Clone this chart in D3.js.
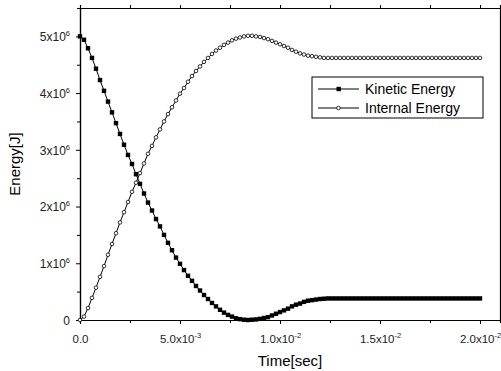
<!DOCTYPE html>
<html>
<head>
<meta charset="utf-8">
<script src="https://cdn.jsdelivr.net/npm/d3@7"></script>
<style>
  body { margin: 0; background: #fff; }
  svg { display: block; font-family: "Liberation Sans", Arial, sans-serif; }
</style>
</head>
<body>
<svg width="501" height="371"></svg>
<script>
// time in units of 1e-4 sec
var timeSteps = [
  0, 2, 4, 6, 8, 10, 12, 14, 16, 18, 20, 22, 24, 26, 28, 30, 32, 34, 36, 38,
  40, 42, 44, 46, 48, 50, 52, 54, 56, 58, 60, 62, 64, 66, 68, 70, 72, 74, 76, 78,
  80, 82, 84, 86, 88, 90, 92, 94, 96, 98, 100, 102, 104, 106, 108, 110, 112, 114, 116, 118,
  120, 122, 124, 126, 128, 130, 132, 134, 136, 138, 140, 142, 144, 146, 148, 150, 152, 154, 156, 158,
  160, 162, 164, 166, 168, 170, 172, 174, 176, 178, 180, 182, 184, 186, 188, 190, 192, 194, 196, 198, 200
];
// energies in units of 1e6 J
var kinetic = [
  5.00, 4.94, 4.79, 4.62, 4.43, 4.23, 4.04, 3.85, 3.66, 3.47, 3.28, 3.09, 2.91, 2.75, 2.57, 2.40, 2.23, 2.07, 1.93, 1.78,
  1.65, 1.50, 1.36, 1.23, 1.10, 0.99, 0.88, 0.78, 0.69, 0.60, 0.52, 0.44, 0.37, 0.30, 0.24, 0.18, 0.13, 0.09, 0.06, 0.03,
  0.015, 0.005, 0.0, 0.005, 0.01, 0.02, 0.035, 0.05, 0.08, 0.11, 0.14, 0.17, 0.20, 0.24, 0.27, 0.29, 0.32, 0.34, 0.35, 0.36,
  0.37, 0.375, 0.38, 0.38, 0.38, 0.38, 0.38, 0.38, 0.38, 0.38, 0.38, 0.38, 0.38, 0.38, 0.38, 0.38, 0.38, 0.38, 0.38, 0.38,
  0.38, 0.38, 0.38, 0.38, 0.38, 0.38, 0.38, 0.38, 0.38, 0.38, 0.38, 0.38, 0.38, 0.38, 0.38, 0.38, 0.38, 0.38, 0.38, 0.38, 0.38
];
var internal = [
  0.00, 0.06, 0.21, 0.39, 0.57, 0.76, 0.95, 1.15, 1.34, 1.53, 1.72, 1.90, 2.08, 2.26, 2.42, 2.59, 2.76, 2.93, 3.07, 3.22,
  3.36, 3.50, 3.63, 3.75, 3.87, 3.99, 4.09, 4.20, 4.30, 4.39, 4.47, 4.55, 4.62, 4.69, 4.75, 4.80, 4.85, 4.89, 4.93, 4.96,
  4.98, 5.00, 5.01, 5.01, 5.00, 4.99, 4.97, 4.95, 4.92, 4.89, 4.86, 4.83, 4.80, 4.76, 4.73, 4.70, 4.68, 4.66, 4.65, 4.64,
  4.63, 4.62, 4.62, 4.62, 4.62, 4.62, 4.62, 4.62, 4.62, 4.62, 4.62, 4.62, 4.62, 4.62, 4.62, 4.62, 4.62, 4.62, 4.62, 4.62,
  4.62, 4.62, 4.62, 4.62, 4.62, 4.62, 4.62, 4.62, 4.62, 4.62, 4.62, 4.62, 4.62, 4.62, 4.62, 4.62, 4.62, 4.62, 4.62, 4.62, 4.62
];
var seriesNames = ["Kinetic Energy", "Internal Energy"];

var xTicks = [0, 0.005, 0.01, 0.015, 0.02];
var xTickMant = ["0.0", "5.0", "1.0", "1.5", "2.0"];
var xTickExp = ["", "-3", "-2", "-2", "-2"];
var xMinor = [0.0025, 0.0075, 0.0125, 0.0175];
var yTicks = [0, 1e6, 2e6, 3e6, 4e6, 5e6];
var yTickMant = ["0", "1", "2", "3", "4", "5"];
var yMinor = [0.5e6, 1.5e6, 2.5e6, 3.5e6, 4.5e6];

var svg = d3.select("svg"),
    margin = { top: 8, right: 1, bottom: 51, left: 80 },
    width = 501 - margin.left - margin.right,
    height = 371 - margin.top - margin.bottom;

var g = svg.append("g").attr("transform", `translate(${margin.left},${margin.top})`);

var x = d3.scaleLinear().domain([0, 0.021]).range([0, width]);
var y = d3.scaleLinear().domain([0, 5.5e6]).range([height, 0]);

var data = timeSteps.map((t, i) => ({ t: t * 1e-4, k: kinetic[i] * 1e6, e: internal[i] * 1e6 }));

// minor ticks
g.append("g").attr("transform", `translate(0,${height})`)
    .call(d3.axisBottom(x).tickValues(xMinor).tickSize(3).tickFormat(""));
g.append("g").call(d3.axisLeft(y).tickValues(yMinor).tickSize(3).tickFormat(""));
g.append("g").call(d3.axisTop(x).tickValues(xTicks.concat(xMinor)).tickSize(3).tickFormat(""));
g.append("g").attr("transform", `translate(${width},0)`)
    .call(d3.axisRight(y).tickValues(yTicks.concat(yMinor)).tickSize(3).tickFormat(""));

// major ticks
var xAxisG = g.append("g").attr("transform", `translate(0,${height})`)
    .call(d3.axisBottom(x).tickValues(xTicks).tickSize(4).tickSizeOuter(0).tickFormat(""));
var yAxisG = g.append("g")
    .call(d3.axisLeft(y).tickValues(yTicks).tickSize(4).tickSizeOuter(0).tickFormat(""));

svg.selectAll(".domain").attr("stroke", "#000").attr("stroke-width", 1.2);
svg.selectAll(".tick line").attr("stroke", "#000");

// tick labels with superscripts
xAxisG.selectAll(".tick").each(function (d, i) {
    var t = d3.select(this).append("text")
        .attr("y", 23).attr("fill", "#222")
        .attr("font-size", 11.5).attr("text-anchor", "middle");
    t.append("tspan").text(xTickMant[i] + (xTickExp[i] ? "x10" : ""));
    if (xTickExp[i]) t.append("tspan").attr("dy", -5).attr("font-size", 7.5).text(xTickExp[i]);
});
yAxisG.selectAll(".tick").each(function (d, i) {
    var t = d3.select(this).append("text")
        .attr("x", -10).attr("dy", "0.35em").attr("fill", "#222")
        .attr("font-size", 12).attr("text-anchor", "end");
    t.append("tspan").text(yTickMant[i] + (i > 0 ? "x10" : ""));
    if (i > 0) t.append("tspan").attr("dy", -5).attr("font-size", 7.5).text("6");
});

// axis titles
svg.append("text")
    .attr("x", margin.left + x(0.0105)).attr("y", 366)
    .attr("text-anchor", "middle").attr("font-size", 15)
    .text("Time[sec]");
svg.append("text")
    .attr("transform", `translate(20,${margin.top + y(2.75e6)}) rotate(-90)`)
    .attr("text-anchor", "middle").attr("font-size", 15)
    .text("Energy[J]");

// series
var lineK = d3.line().x(d => x(d.t)).y(d => y(d.k));
var lineE = d3.line().x(d => x(d.t)).y(d => y(d.e));

g.append("path").datum(data).attr("d", lineK)
    .attr("fill", "none").attr("stroke", "#000").attr("stroke-width", 1);
g.append("path").datum(data).attr("d", lineE)
    .attr("fill", "none").attr("stroke", "#000").attr("stroke-width", 1);

g.selectAll(".sq").data(data).enter().append("rect")
    .attr("class", "sq")
    .attr("x", d => x(d.t) - 2.2).attr("y", d => y(d.k) - 2.2)
    .attr("width", 4.4).attr("height", 4.4).attr("fill", "#000");

g.selectAll(".ci").data(data).enter().append("circle")
    .attr("class", "ci")
    .attr("cx", d => x(d.t)).attr("cy", d => y(d.e)).attr("r", 1.8)
    .attr("fill", "#fff").attr("stroke", "#000").attr("stroke-width", 0.8);

// legend
var lg = svg.append("g").attr("transform", "translate(312,77)");
lg.append("rect").attr("width", 171).attr("height", 41)
    .attr("fill", "#fff").attr("stroke", "#000").attr("stroke-width", 1);
seriesNames.forEach(function (name, i) {
    var row = lg.append("g").attr("transform", `translate(0,${12 + i * 19})`);
    row.append("line").attr("x1", 6).attr("x2", 47).attr("stroke", "#000");
    if (i === 0) {
        row.append("rect").attr("x", 24.5).attr("y", -2.2).attr("width", 4.4).attr("height", 4.4).attr("fill", "#000");
    } else {
        row.append("circle").attr("cx", 26.5).attr("r", 1.8)
            .attr("fill", "#fff").attr("stroke", "#000").attr("stroke-width", 0.8);
    }
    row.append("text").attr("x", 53).attr("dy", "0.35em")
        .attr("font-size", 14).text(name);
});
</script>
</body>
</html>
